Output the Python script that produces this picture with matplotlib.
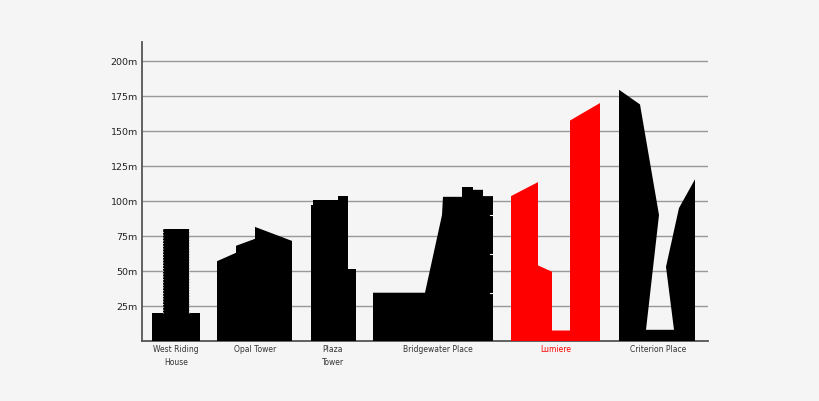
import matplotlib.pyplot as plt
from matplotlib.patches import Polygon

# heights in metres, x in horizontal units (1 unit = 1 px of the chart width)
yticks = [25, 50, 75, 100, 125, 150, 175, 200]
ylabels = ['25m', '50m', '75m', '100m', '125m', '150m', '175m', '200m']

names = ['West Riding\nHouse', 'Opal Tower', 'Plaza\nTower',
         'Bridgewater Place', 'Lumiere', 'Criterion Place']
label_x = [34, 113, 191, 296, 414, 516]
colors = ['black', 'black', 'black', 'black', 'red', 'black']

# outlines (x, height) of each building silhouette
west_riding_x = [10, 10, 21, 21, 47, 47, 58, 58]
west_riding_h = [0, 20, 20, 80, 80, 20, 20, 0]

opal_x = [75, 75, 94, 94, 113, 113, 150, 150]
opal_h = [0, 57, 63, 68, 73, 81.5, 71.5, 0]

plaza_x = [169, 169, 171, 171, 196, 196, 206, 206, 214, 214]
plaza_h = [0, 97, 97, 100.5, 100.5, 103.5, 103.5, 51.5, 51.5, 0]

bridge_x = [231, 231, 283, 300, 301, 320, 320, 331, 331, 341, 341, 351, 351]
bridge_h = [0, 34.5, 34.5, 90, 103, 103, 110, 110, 108, 108, 103.5, 103.5, 0]

lumiere_x = [369, 369, 396, 396, 410, 410, 428, 428, 458, 458]
lumiere_h = [0, 103.5, 113.5, 54, 49.5, 7.5, 7.5, 157.5, 170, 0]

criterion_x = [477, 477, 498, 517, 504, 532, 524, 537, 553, 553]
criterion_h = [0, 179.5, 169, 90, 8, 8, 53, 95, 115.5, 0]

buildings = [(west_riding_x, west_riding_h), (opal_x, opal_h),
             (plaza_x, plaza_h), (bridge_x, bridge_h),
             (lumiere_x, lumiere_h), (criterion_x, criterion_h)]

bg = '#f5f5f5'
fig = plt.figure(figsize=(8.2, 4.01), dpi=100, facecolor=bg)
ax = fig.add_axes([142/820, 60/401, 566/820, 299/401], facecolor=bg)

for (bx, bh), c in zip(buildings, colors):
    ax.add_patch(Polygon(list(zip(bx, bh)), closed=True, facecolor=c,
                         edgecolor='none', zorder=3))

# dotted edges on the West Riding tower
for xe in [west_riding_x[2], west_riding_x[4]]:
    ax.plot([xe, xe], [20, 80], color='#bbbbbb', lw=0.8,
            ls=(0, (1, 1.5)), zorder=4)

# floor notches on Bridgewater Place
for h in [34.5, 62, 90]:
    ax.plot([348, 351], [h, h], color=bg, lw=0.8, zorder=4)

ax.set_xlim(0, 566)
ax.set_ylim(0, 213.6)
ax.set_yticks(yticks)
ax.set_yticklabels(ylabels, fontsize=6.8, color='#222222')
ax.yaxis.grid(True, color='#999999', lw=1, zorder=1)
ax.set_axisbelow(True)
ax.tick_params(axis='y', length=0, pad=3)
ax.set_xticks([])
for s in ['top', 'right']:
    ax.spines[s].set_visible(False)
for s in ['left', 'bottom']:
    ax.spines[s].set_color('#555555')
    ax.spines[s].set_linewidth(1.3)

for n, lx, c in zip(names, label_x, colors):
    ax.text(lx, -3, n, ha='center', va='top', fontsize=5.5,
            color=c if c == 'red' else '#333333', linespacing=1.5)

fig.savefig('out.png', dpi=100, facecolor=bg)
